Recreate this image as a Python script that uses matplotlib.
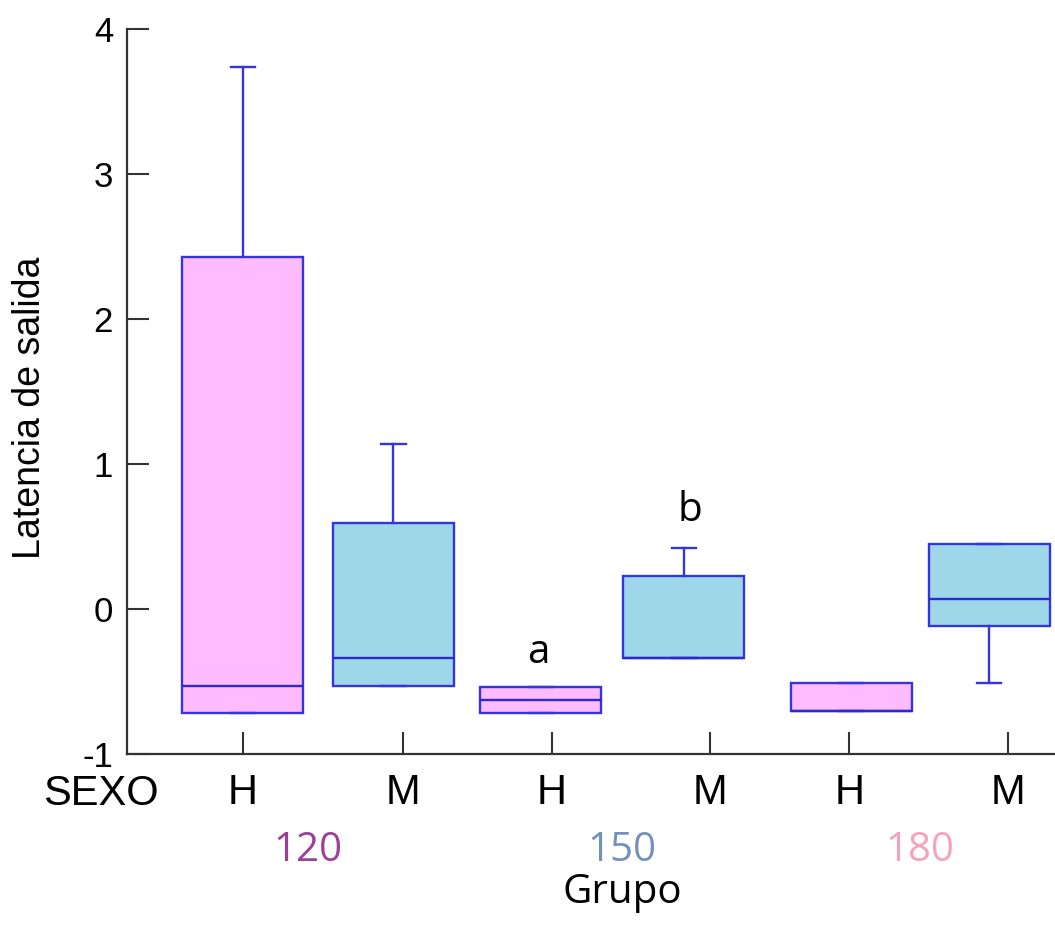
import matplotlib
matplotlib.use("Agg")
import matplotlib.pyplot as plt

# box statistics (Latencia de salida)
groups = ["120", "150", "180"]
sexes = ["H", "M", "H", "M", "H", "M"]
whislo = [-0.72, -0.53, -0.72, -0.34, -0.70, -0.51]
q1 = [-0.72, -0.53, -0.72, -0.34, -0.70, -0.12]
med = [-0.53, -0.34, -0.63, -0.34, -0.70, 0.07]
q3 = [2.43, 0.59, -0.54, 0.23, -0.51, 0.45]
whishi = [3.74, 1.14, -0.54, 0.42, -0.51, 0.45]
letters = ["a", "b"]
letter_y = [-0.37, 0.61]

# layout
tick_pos = [1.0, 2.05, 3.03, 4.07, 4.99, 6.03]
box_pos = [1.0, 1.99, 2.96, 3.90, 5.0, 5.91]
letter_x = [2.94, 3.94]
group_x = [308, 622, 920]
group_colors = ["#9b3f9b", "#7391bb", "#f5a3bd"]
fills = ["#ffbbff", "#9ed8e8"] * 3
edge = "#3434e0"

fig = plt.figure(figsize=(10.55, 9.26), dpi=100)
ax = fig.add_axes([127 / 1055, 1 - 754 / 926, 1 - 127 / 1055, (754 - 29) / 926])

stats = [dict(whislo=a, q1=b, med=c, q3=d, whishi=e, fliers=[])
         for a, b, c, d, e in zip(whislo, q1, med, q3, whishi)]
bp = ax.bxp(stats, positions=box_pos, widths=0.796, capwidths=0.16,
            patch_artist=True, showfliers=False, manage_ticks=False,
            boxprops=dict(edgecolor=edge, linewidth=1.7),
            whiskerprops=dict(color=edge, linewidth=1.7),
            capprops=dict(color=edge, linewidth=1.7),
            medianprops=dict(color="#2a2ad0", linewidth=1.7))
for patch, fc in zip(bp["boxes"], fills):
    patch.set_facecolor(fc)

ax.set_xlim(0.237, 6.342)
ax.set_ylim(-1, 4)
ax.set_yticks([-1, 0, 1, 2, 3, 4])
ax.set_yticklabels(["-1", "0", "1", "2", "3", "4"], fontsize=25, family="Liberation Sans")
ax.set_xticks(tick_pos)
ax.set_xticklabels(sexes, fontsize=30, family="Liberation Sans")
ax.tick_params(axis="y", direction="in", length=16, width=1.5, color="#333333", pad=10)
ax.tick_params(axis="x", direction="in", length=16, width=1.5, color="#333333", pad=14)
for side in ["top", "right"]:
    ax.spines[side].set_visible(False)
for side in ["left", "bottom"]:
    ax.spines[side].set_color("#333333")
    ax.spines[side].set_linewidth(1.6)

for lx, ly, t in zip(letter_x, letter_y, letters):
    ax.text(lx, ly, t, ha="center", va="baseline", fontsize=29, family="Open Sans")

fig.text(43 / 1055, 1 - 805 / 926, "SEXO", ha="left", va="baseline",
         fontsize=30, family="Liberation Sans")
fig.text(30 / 1055, 1 - 408 / 926, "Latencia de salida", rotation=90,
         ha="center", va="center", fontsize=27, family="Liberation Sans")
for gx, g, c in zip(group_x, groups, group_colors):
    fig.text(gx / 1055, 1 - 861 / 926, g, ha="center", va="baseline",
             fontsize=29, family="Open Sans", color=c)
fig.text(622 / 1055, 1 - 903 / 926, "Grupo", ha="center", va="baseline",
         fontsize=29, family="Open Sans")

fig.savefig("out.png", dpi=100)
